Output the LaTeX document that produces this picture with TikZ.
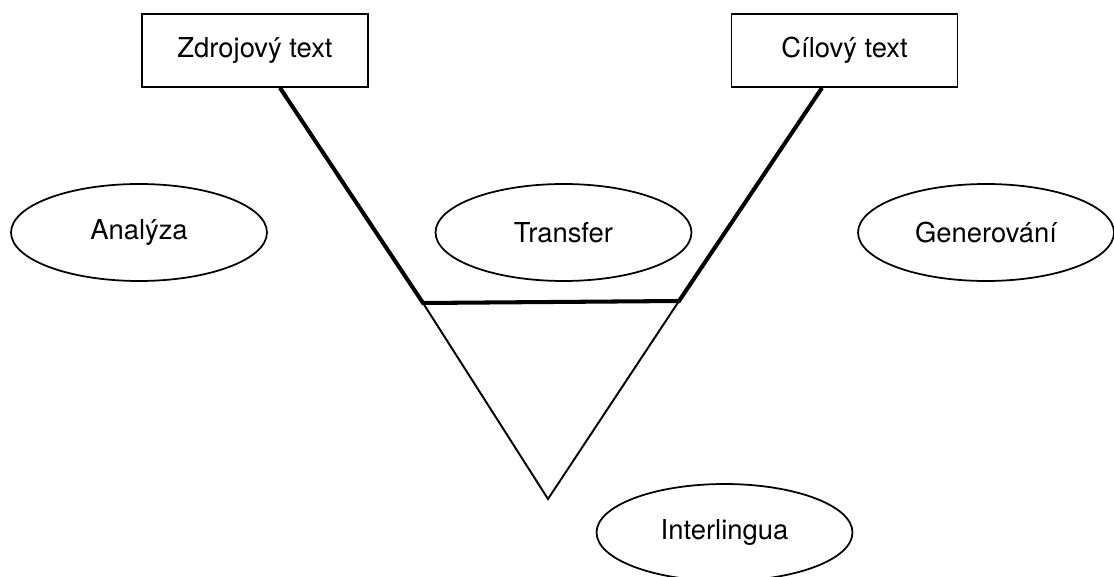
\documentclass[tikz,border=0pt]{standalone}
\usepackage{fontspec}
\setmainfont{TeX Gyre Heros}
\usetikzlibrary{shapes.geometric}

\begin{document}
\begin{tikzpicture}[x=0.02cm,y=-0.02cm,font=\fontsize{15.6}{18}\selectfont,
		box/.style={draw,line width=1pt,minimum width=4.52cm,minimum height=1.46cm,inner sep=0pt},
		oval/.style={draw,ellipse,line width=1pt,minimum width=5.12cm,minimum height=1.94cm,inner sep=0pt},
		thickline/.style={line width=2.3pt},
		thinline/.style={line width=1.1pt}]
		\useasboundingbox (0,0) rectangle (1114,577);
		% texts
		\node[box] (src) at (255,50.5) {Zdrojový text};
		\node[box] (tgt) at (844.5,50.5) {Cílový text};
		% stages
		\node[oval] (analyza) at (139,232.5) {Analýza};
		\node[oval] (transfer) at (563.5,232.5) {Transfer};
		\node[oval] (generovani) at (986,232.5) {Generování};
		\node[oval] (interlingua) at (724.5,532.5) {Interlingua};
		% triangle
		\coordinate (left) at (423,303);
		\coordinate (right) at (679,301);
		\coordinate (apex) at (548,499);
		\draw[thickline] ([xshift=0.5cm]src.south) -- (left) -- (right) -- ([xshift=-0.45cm]tgt.south);
		\draw[thinline] (left) -- (apex) -- (right);
\end{tikzpicture}
\end{document}
